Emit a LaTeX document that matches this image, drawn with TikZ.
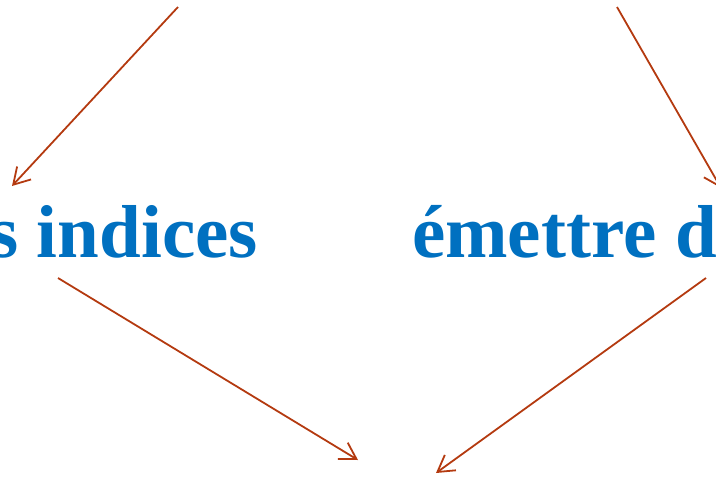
\documentclass[tikz,border=0pt]{standalone}
\usepackage{fontspec}
\setmainfont{Liberation Serif}
\usetikzlibrary{arrows.meta}
\definecolor{arrowred}{RGB}{180,58,16}
\definecolor{textblue}{RGB}{0,112,192}
\tikzset{
  conn/.style={draw=arrowred, line width=1.8pt, -{Straight Barb[length=16pt,width=19pt]}},
  bigtext/.style={text=textblue, inner sep=0pt, font=\fontsize{75}{80}\selectfont\bfseries}
}
\begin{document}
\begin{tikzpicture}[x=1pt,y=-1pt]
\useasboundingbox (0,0) rectangle (716,477);
\node[bigtext, anchor=base east] (left) at (258,257) {s indices};
\node[bigtext, anchor=base west] (right) at (412,257) {émettre d};
\coordinate (topL) at (178,7);
\coordinate (tipL) at (12,186);
\coordinate (topR) at (617,7);
\coordinate (tipR) at (721,188);
\coordinate (outL) at (58,278);
\coordinate (outR) at (706,278);
\coordinate (inL) at (358,460);
\coordinate (inR) at (436,473);
\draw[conn] (topL) -- (tipL);
\draw[conn] (topR) -- (tipR);
\draw[conn] (outL) -- (inL);
\draw[conn] (outR) -- (inR);
\end{tikzpicture}
\end{document}
